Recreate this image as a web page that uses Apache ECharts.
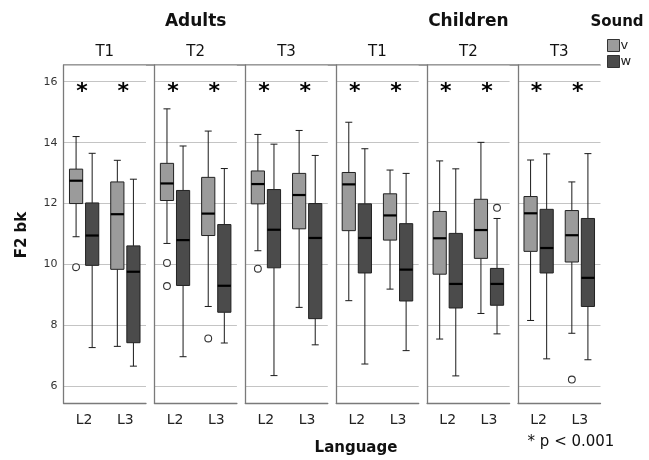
<!DOCTYPE html>
<html>
<head>
<meta charset="utf-8">
<script src="https://cdn.jsdelivr.net/npm/echarts@6/dist/echarts.min.js"></script>
<style>
html,body{margin:0;padding:0;background:#fff;}
#main{width:649px;height:460px;}
</style>
</head>
<body>
<div id="main"></div>
<script>
// ---- data ----
const groups = ['Adults', 'Children'];
const times = ['T1', 'T2', 'T3'];
const languages = ['L2', 'L3'];
const sounds = ['v', 'w'];
const yTicks = [6, 8, 10, 12, 14, 16];
// per panel (Adults T1..T3, Children T1..T3), per language [L2, L3]: [low, Q1, median, Q3, high]
const vStats = [
  [[10.91, 12.00, 12.75, 13.13, 14.20], [7.31, 9.84, 11.65, 12.71, 13.42]],
  [[10.69, 12.10, 12.66, 13.32, 15.11], [8.62, 10.95, 11.67, 12.86, 14.38]],
  [[10.45, 11.99, 12.64, 13.07, 14.27], [8.59, 11.17, 12.28, 12.99, 14.40]],
  [[8.81, 11.11, 12.63, 13.02, 14.67], [9.19, 10.80, 11.61, 12.32, 13.10]],
  [[7.55, 9.68, 10.86, 11.74, 13.40], [8.39, 10.20, 11.13, 12.14, 14.01]],
  [[8.16, 10.43, 11.68, 12.23, 13.43], [7.74, 10.08, 10.96, 11.77, 12.71]]
];
const wStats = [
  [[7.27, 9.97, 10.95, 12.02, 13.65], [6.66, 7.43, 9.76, 10.61, 12.80]],
  [[6.97, 9.31, 10.80, 12.43, 13.89], [7.42, 8.43, 9.30, 11.31, 13.15]],
  [[6.35, 9.89, 11.14, 12.46, 13.95], [7.36, 8.22, 10.87, 12.00, 13.58]],
  [[6.73, 9.72, 10.87, 11.99, 13.80], [7.17, 8.80, 9.83, 11.34, 12.99]],
  [[6.34, 8.57, 9.36, 11.02, 13.14], [7.72, 8.66, 9.36, 9.87, 11.51]],
  [[6.90, 9.72, 10.54, 11.81, 13.63], [6.87, 8.62, 9.56, 11.51, 13.64]]
];
// outliers: [panel, languageIndex, value]
const vOutliers = [[0, 0, 9.91], [1, 0, 10.05], [1, 0, 9.29], [1, 1, 7.57], [2, 0, 9.86], [5, 1, 6.22]];
const wOutliers = [[4, 1, 11.86]];
// significance markers: [panel, languageIndex]
const sigMarks = [[0,0],[0,1],[1,0],[1,1],[2,0],[2,1],[3,0],[3,1],[4,0],[4,1],[5,0],[5,1]];
const sigY = 15.65;
const sigNote = '* p < 0.001';

// ---- layout/style ----
const FONT = 'DejaVu Sans';
const yMin = 5.45, yMax = 16.55;
const panelLeft0 = 63.5, panelStep = 90.9, panelW = 82.5, plotTop = 65, plotH = 338;
const colors = { v: '#9b9b9b', w: '#4b4b4b' };
const offsets = { v: -0.195, w: 0.195 };

const chart = echarts.init(document.getElementById('main'), null, { renderer: 'canvas' });

const grids = [], xAxes = [], yAxes = [], series = [];
for (let p = 0; p < 6; p++) {
  grids.push({ left: panelLeft0 + p * panelStep, top: plotTop, width: panelW, height: plotH, containLabel: false });
  xAxes.push({
    gridIndex: p, type: 'category', data: languages, boundaryGap: true,
    axisLine: { show: true, lineStyle: { color: '#7a7a7a', width: 1.3 } },
    axisTick: { show: false },
    axisLabel: { color: '#222', fontSize: 14, fontFamily: FONT, margin: 10 },
    splitLine: { show: false }
  });
  yAxes.push({
    gridIndex: p, type: 'value', min: yMin, max: yMax, splitNumber: 5,
    axisLine: { show: true, lineStyle: { color: '#7a7a7a', width: 1.3 } },
    axisTick: { show: false },
    axisLabel: {
      show: p === 0, color: '#333', fontSize: 11, fontFamily: FONT, margin: 6,
      showMinLabel: false, showMaxLabel: false,
      formatter: v => (yTicks.indexOf(Math.round(v * 1000) / 1000) >= 0 ? String(v) : '')
    },
    splitLine: { show: true, lineStyle: { color: '#c4c4c4', width: 1 } }
  });
}

function boxRenderer(off) {
  return function (params, api) {
    const ci = api.value(0);
    const bw = api.size([1, 0])[0];
    const cx = api.coord([ci, yMin])[0] + off * bw;
    const half = 6.6;
    const cap = 3.5;
    const y = k => api.coord([ci, api.value(k)])[1];
    const yl = y(1), q1 = y(2), md = y(3), q3 = y(4), yh = y(5);
    const lineStyle = { stroke: '#1a1a1a', lineWidth: 1 };
    return {
      type: 'group',
      children: [
        { type: 'line', shape: { x1: cx, y1: yh, x2: cx, y2: q3 }, style: lineStyle },
        { type: 'line', shape: { x1: cx, y1: q1, x2: cx, y2: yl }, style: lineStyle },
        { type: 'line', shape: { x1: cx - cap, y1: yh, x2: cx + cap, y2: yh }, style: lineStyle },
        { type: 'line', shape: { x1: cx - cap, y1: yl, x2: cx + cap, y2: yl }, style: lineStyle },
        { type: 'rect', shape: { x: cx - half, y: q3, width: half * 2, height: q1 - q3 },
          style: { fill: api.visual('color'), stroke: '#222', lineWidth: 1 } },
        { type: 'line', shape: { x1: cx - half, y1: md, x2: cx + half, y2: md }, style: { stroke: '#000', lineWidth: 2.2 } }
      ]
    };
  };
}
function outlierRenderer(off) {
  return function (params, api) {
    const ci = api.value(0);
    const bw = api.size([1, 0])[0];
    const pt = api.coord([ci, api.value(1)]);
    return { type: 'circle', shape: { cx: pt[0] + off * bw, cy: pt[1], r: 3.4 },
      style: { fill: '#fff', stroke: '#333', lineWidth: 1.1 } };
  };
}

for (let p = 0; p < 6; p++) {
  [['v', vStats], ['w', wStats]].forEach(([s, stats]) => {
    series.push({
      type: 'custom', name: s, xAxisIndex: p, yAxisIndex: p,
      itemStyle: { color: colors[s], borderColor: '#222', borderWidth: 1 },
      encode: { x: 0, y: [1, 2, 3, 4, 5] },
      renderItem: boxRenderer(offsets[s]),
      data: stats[p].map((st, li) => [li].concat(st)),
      silent: true
    });
  });
  [['v', vOutliers], ['w', wOutliers]].forEach(([s, outs]) => {
    const d = outs.filter(o => o[0] === p).map(o => [o[1], o[2]]);
    if (d.length) {
      series.push({
        type: 'custom', name: s, xAxisIndex: p, yAxisIndex: p,
        itemStyle: { color: colors[s] },
        encode: { x: 0, y: 1 },
        renderItem: outlierRenderer(offsets[s]),
        data: d, silent: true
      });
    }
  });
  series.push({
    type: 'custom', xAxisIndex: p, yAxisIndex: p,
    encode: { x: 0, y: 1 },
    renderItem: function (params, api) {
      const pt = api.coord([api.value(0), api.value(1)]);
      return { type: 'text', x: pt[0] - 2, y: pt[1],
        style: { text: '*', fill: '#000', font: 'bold 22px ' + FONT, textAlign: 'center', textVerticalAlign: 'middle' } };
    },
    data: sigMarks.filter(m => m[0] === p).map(m => [m[1], sigY]),
    silent: true
  });
}

const graphics = [
  { type: 'line', shape: { x1: panelLeft0, y1: plotTop, x2: panelLeft0 + 5 * panelStep + panelW, y2: plotTop },
    style: { stroke: '#7a7a7a', lineWidth: 1.3 } },
  { type: 'text', x: panelLeft0 + panelStep + panelW / 2, y: 22,
    style: { text: groups[0], font: 'bold 17px ' + FONT, fill: '#111', textAlign: 'center', textVerticalAlign: 'middle' } },
  { type: 'text', x: panelLeft0 + 4 * panelStep + panelW / 2, y: 22,
    style: { text: groups[1], font: 'bold 17px ' + FONT, fill: '#111', textAlign: 'center', textVerticalAlign: 'middle' } },
  { type: 'text', x: 617, y: 22,
    style: { text: 'Sound', font: 'bold 15px ' + FONT, fill: '#111', textAlign: 'center', textVerticalAlign: 'middle' } },
  { type: 'text', x: 22, y: 235, rotation: Math.PI / 2,
    style: { text: 'F2 bk', font: 'bold 15px ' + FONT, fill: '#111', textAlign: 'center', textVerticalAlign: 'middle' } },
  { type: 'text', x: 356, y: 448,
    style: { text: 'Language', font: 'bold 15px ' + FONT, fill: '#111', textAlign: 'center', textVerticalAlign: 'middle' } },
  { type: 'text', x: 571, y: 442,
    style: { text: sigNote, font: '15px ' + FONT, fill: '#111', textAlign: 'center', textVerticalAlign: 'middle' } }
];
for (let p = 0; p < 6; p++) {
  graphics.push({ type: 'text', x: panelLeft0 + p * panelStep + panelW / 2, y: 52,
    style: { text: times[p % 3], font: '15px ' + FONT, fill: '#111', textAlign: 'center', textVerticalAlign: 'middle' } });
}

chart.setOption({
  animation: false,
  backgroundColor: '#fff',
  grid: grids, xAxis: xAxes, yAxis: yAxes, series: series,
  legend: {
    data: sounds, orient: 'vertical', left: 607, top: 39,
    icon: 'rect', itemWidth: 12, itemHeight: 12, itemGap: 3,
    itemStyle: { borderColor: '#333', borderWidth: 1 },
    textStyle: { fontFamily: FONT, fontSize: 13, color: '#222', padding: [0, 0, 0, -4] },
    selectedMode: false, padding: 0
  },
  graphic: graphics
});
</script>
</body>
</html>
